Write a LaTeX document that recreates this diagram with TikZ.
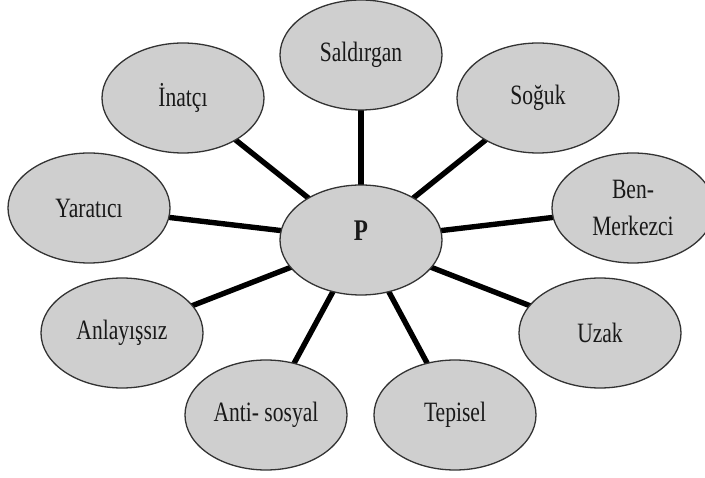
\documentclass[tikz,border=0pt]{standalone}
\usepackage{fontspec}
\setmainfont{Liberation Serif}[FakeStretch=0.77]
\usetikzlibrary{shapes.geometric,backgrounds}
\begin{document}
\begin{tikzpicture}[x=1pt,y=-1pt,
  bubble/.style={ellipse, draw=black!80, line width=1.3pt, fill=gray!38,
    minimum width=162pt, minimum height=110pt, inner sep=0pt,
    font=\fontsize{28}{37}\selectfont, align=center, text=black!90},
  spoke/.style={line width=5.4pt, black}]
\useasboundingbox (0,0) rectangle (705,478);
\node[bubble] (P)   at (361,240) {\raisebox{18pt}{\fontsize{30}{30}\selectfont\bfseries P}};
\node[bubble] (sal) at (361,55)  {\raisebox{4pt}{Saldırgan}};
\node[bubble] (ina) at (183,98)  {İnatçı};
\node[bubble] (sog) at (538,98)  {Soğuk};
\node[bubble] (yar) at (89,208)  {Yaratıcı};
\node[bubble] (ben) at (633,208) {Ben-\\Merkezci};
\node[bubble] (anl) at (122,333) {Anlayışsız};
\node[bubble] (uza) at (600,333) {Uzak};
\node[bubble] (ant) at (266,415) {\raisebox{4pt}{Anti- sosyal}};
\node[bubble] (tep) at (455,415) {Tepisel};
\begin{pgfonlayer}{background}
\foreach \n in {sal,ina,sog,yar,ben,anl,uza,ant,tep}
  \draw[spoke] (P.center) -- (\n.center);
\end{pgfonlayer}
\end{tikzpicture}
\end{document}
